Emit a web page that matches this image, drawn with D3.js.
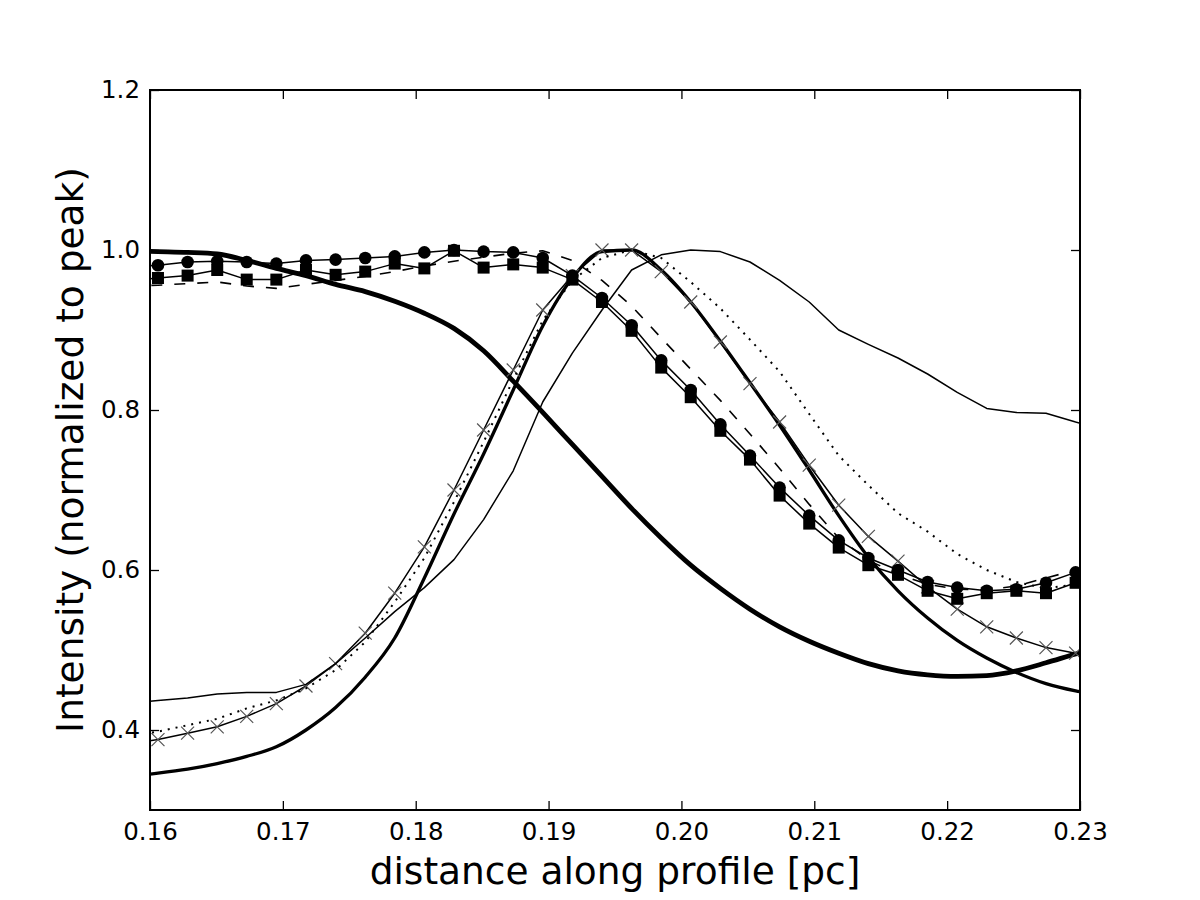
<!DOCTYPE html>
<html>
<head>
<meta charset="utf-8">
<script src="https://cdn.jsdelivr.net/npm/d3@7"></script>
<style>
  body { margin: 0; background: #fff; }
  text { font-family: 'DejaVu Sans', sans-serif; fill: #000; }
</style>
</head>
<body>
<div class="chart-container"></div>
<script>
// sample positions along the profile [pc]
const xVals = [0.15837, 0.16060, 0.16283, 0.16506, 0.16728, 0.16951, 0.17174, 0.17397,
  0.17620, 0.17842, 0.18065, 0.18288, 0.18511, 0.18734, 0.18956, 0.19179, 0.19402,
  0.19625, 0.19848, 0.20070, 0.20293, 0.20516, 0.20739, 0.20962, 0.21184, 0.21407,
  0.21630, 0.21853, 0.22076, 0.22298, 0.22521, 0.22744, 0.22967, 0.23190];

const circles = [0.978, 0.981, 0.985, 0.986, 0.985, 0.983, 0.987, 0.988, 0.990, 0.992,
  0.997, 1.000, 0.998, 0.997, 0.990, 0.968, 0.940, 0.906, 0.862, 0.825, 0.782, 0.743,
  0.703, 0.668, 0.637, 0.615, 0.600, 0.585, 0.578, 0.574, 0.576, 0.584, 0.597, 0.610];
const squares = [0.962, 0.965, 0.968, 0.975, 0.963, 0.963, 0.975, 0.969, 0.973, 0.983,
  0.977, 0.999, 0.978, 0.982, 0.978, 0.963, 0.935, 0.899, 0.853, 0.816, 0.774, 0.738,
  0.693, 0.658, 0.628, 0.606, 0.594, 0.574, 0.564, 0.571, 0.574, 0.571, 0.584, 0.595];
const dashed = [0.955, 0.956, 0.958, 0.960, 0.955, 0.952, 0.957, 0.962, 0.967, 0.973,
  0.980, 0.986, 0.991, 0.996, 0.999, 0.987, 0.962, 0.930, 0.890, 0.851, 0.812, 0.770,
  0.727, 0.682, 0.640, 0.612, 0.595, 0.582, 0.576, 0.575, 0.580, 0.590, 0.600, 0.610];
const dotted = [0.392, 0.398, 0.406, 0.414, 0.427, 0.437, 0.452, 0.475, 0.510, 0.560,
  0.615, 0.685, 0.760, 0.838, 0.912, 0.962, 0.990, 1.000, 0.990, 0.960, 0.927, 0.888,
  0.848, 0.795, 0.743, 0.706, 0.671, 0.648, 0.620, 0.600, 0.585, 0.577, 0.582, 0.590];
const thinPeak = [0.433, 0.437, 0.440, 0.445, 0.447, 0.447, 0.457, 0.483, 0.515, 0.548,
  0.578, 0.613, 0.663, 0.724, 0.810, 0.871, 0.925, 0.975, 0.994, 1.000, 0.998, 0.985,
  0.962, 0.935, 0.900, 0.882, 0.865, 0.845, 0.822, 0.802, 0.797, 0.796, 0.785, 0.775];
const crossed = [0.383, 0.388, 0.396, 0.404, 0.417, 0.433, 0.455, 0.483, 0.521, 0.571,
  0.629, 0.700, 0.775, 0.850, 0.925, 0.968, 1.000, 1.000, 0.973, 0.935, 0.885, 0.833,
  0.785, 0.731, 0.681, 0.642, 0.611, 0.579, 0.551, 0.529, 0.515, 0.503, 0.496, 0.490];
const thick = [0.342, 0.346, 0.351, 0.358, 0.367, 0.379, 0.400, 0.428, 0.466, 0.515,
  0.590, 0.670, 0.745, 0.825, 0.905, 0.965, 0.998, 1.000, 0.975, 0.935, 0.886, 0.834,
  0.781, 0.725, 0.668, 0.616, 0.574, 0.540, 0.512, 0.490, 0.472, 0.458, 0.449, 0.443];
const thickest = [0.999, 0.998, 0.997, 0.995, 0.987, 0.977, 0.968, 0.957, 0.948, 0.936,
  0.921, 0.902, 0.874, 0.836, 0.797, 0.757, 0.717, 0.677, 0.640, 0.606, 0.577, 0.551,
  0.529, 0.511, 0.496, 0.483, 0.474, 0.469, 0.467, 0.468, 0.474, 0.484, 0.495, 0.505];

const xTicks = [0.16, 0.17, 0.18, 0.19, 0.20, 0.21, 0.22, 0.23];
const yTicks = [0.4, 0.6, 0.8, 1.0, 1.2];

const svg_width = 1200;
const svg_height = 900;
const margin = { top: 90, right: 120, bottom: 90, left: 150 };
const width = svg_width - margin.left - margin.right;
const height = svg_height - margin.top - margin.bottom;

const svg = d3.select('.chart-container')
  .append('svg')
  .attr('width', svg_width)
  .attr('height', svg_height);

const g = svg.append('g')
  .attr('transform', `translate(${margin.left},${margin.top})`);

const xScale = d3.scaleLinear([0.16, 0.23], [0, width]);
const yScale = d3.scaleLinear([0.3, 1.2], [height, 0]);

g.append('clipPath').attr('id', 'plot-clip')
  .append('rect').attr('width', width).attr('height', height);

const plot = g.append('g').attr('clip-path', 'url(#plot-clip)');

const line = d3.line()
  .x((d, i) => xScale(xVals[i]))
  .y(d => yScale(d));
const smoothLine = d3.line()
  .x((d, i) => xScale(xVals[i]))
  .y(d => yScale(d))
  .curve(d3.curveMonotoneX);

// drawn from back to front
const series = [
  { values: thickest, width: 4.8, dash: null, smooth: true },
  { values: thick, width: 3.3, dash: null, smooth: true },
  { values: crossed, width: 1.5, dash: null, marker: 'x' },
  { values: thinPeak, width: 1.5, dash: null },
  { values: dotted, width: 2, dash: '2,6' },
  { values: dashed, width: 1.6, dash: '11,12' },
  { values: circles, width: 1.5, dash: null, marker: 'o' },
  { values: squares, width: 1.5, dash: null, marker: 's' }
];

series.forEach(s => {
  plot.append('path')
    .datum(s.values)
    .attr('fill', 'none')
    .attr('stroke', '#000')
    .attr('stroke-width', s.width)
    .attr('stroke-dasharray', s.dash)
    .attr('stroke-linejoin', 'round')
    .attr('d', s.smooth ? smoothLine : line);

  if (s.marker === 'o') {
    plot.selectAll(null)
      .data(s.values)
      .join('circle')
      .attr('cx', (d, i) => xScale(xVals[i]))
      .attr('cy', d => yScale(d))
      .attr('r', 6.3)
      .attr('fill', '#000');
  } else if (s.marker === 's') {
    plot.selectAll(null)
      .data(s.values)
      .join('rect')
      .attr('x', (d, i) => xScale(xVals[i]) - 6)
      .attr('y', d => yScale(d) - 6)
      .attr('width', 12)
      .attr('height', 12)
      .attr('fill', '#000');
  } else if (s.marker === 'x') {
    const sz = 6.5;
    plot.selectAll(null)
      .data(s.values)
      .join('path')
      .attr('d', (d, i) => {
        const cx = xScale(xVals[i]), cy = yScale(d);
        return `M${cx - sz},${cy - sz}L${cx + sz},${cy + sz}M${cx - sz},${cy + sz}L${cx + sz},${cy - sz}`;
      })
      .attr('stroke', '#555')
      .attr('stroke-width', 1.2)
      .attr('fill', 'none');
  }
});

// axes, ticks pointing inward like matplotlib classic
const tickLen = 9;
const xAxis = d3.axisBottom(xScale)
  .tickValues(xTicks)
  .tickFormat(d3.format('.2f'))
  .tickSizeInner(-tickLen)
  .tickSizeOuter(0)
  .tickPadding(13);
g.append('g')
  .attr('transform', `translate(0,${height})`)
  .call(xAxis);

const yAxis = d3.axisLeft(yScale)
  .tickValues(yTicks)
  .tickFormat(d3.format('.1f'))
  .tickSizeInner(-tickLen)
  .tickSizeOuter(0)
  .tickPadding(10);
g.append('g').call(yAxis);

// mirrored ticks on top and right
g.append('g').call(d3.axisTop(xScale).tickValues(xTicks).tickFormat('')
  .tickSizeInner(-tickLen).tickSizeOuter(0));
g.append('g').attr('transform', `translate(${width},0)`)
  .call(d3.axisRight(yScale).tickValues(yTicks).tickFormat('')
  .tickSizeInner(-tickLen).tickSizeOuter(0));

g.selectAll('.domain').remove();
g.selectAll('.tick line').attr('stroke', '#000').attr('stroke-width', 1.3);
g.selectAll('.tick text')
  .style('font-family', "'DejaVu Sans', sans-serif")
  .style('font-size', '24.5px')
  .attr('fill', '#000');

// frame
g.append('rect')
  .attr('width', width)
  .attr('height', height)
  .attr('fill', 'none')
  .attr('stroke', '#000')
  .attr('stroke-width', 2);

// labels
svg.append('text')
  .attr('x', margin.left + width / 2)
  .attr('y', 884)
  .attr('text-anchor', 'middle')
  .style('font-size', '37.5px')
  .text('distance along profile [pc]');

svg.append('text')
  .attr('transform', `translate(83,${margin.top + height / 2}) rotate(-90)`)
  .attr('text-anchor', 'middle')
  .style('font-size', '37.5px')
  .text('Intensity (normalized to peak)');
</script>
</body>
</html>
